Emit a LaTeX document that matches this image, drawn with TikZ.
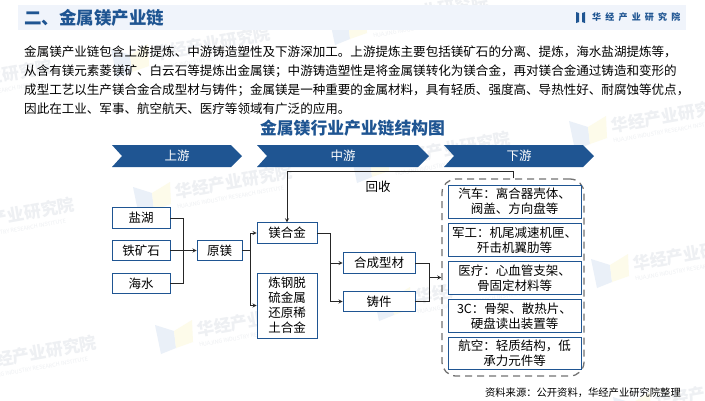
\documentclass[tikz,border=0pt]{standalone}
\usepackage{fontspec}
\setmainfont{Noto Sans CJK SC}
\definecolor{hjblue}{HTML}{1F5592}
\definecolor{headbg}{HTML}{F0F4FB}
\definecolor{markgray}{HTML}{EEF0F3}
\definecolor{markblue}{HTML}{EAF0F8}
\definecolor{markyellow}{HTML}{FDFBEA}
\tikzset{>=stealth}
\tikzset{
    box/.style={draw=hjblue, fill=white, line width=0.9pt, inner sep=0pt, align=center,
        font=\fontsize{12.5}{15}\selectfont},
    usebox/.style={box, minimum width=133pt},
    link/.style={line width=0.8pt, black!85},
    stagename/.style={text=white, font=\fontsize{12.5}{15}\selectfont},
    markname/.style={anchor=west, rotate=10, text=markgray, inner sep=0pt, font=\fontsize{17}{17}\selectfont\bfseries},
    marksub/.style={anchor=west, rotate=10, text=markgray, inner sep=0pt, font=\fontsize{5.5}{6}\selectfont}
}

\begin{document}
\begin{tikzpicture}[x=1pt, y=-1pt]
    \clip (0,0) rectangle (705,400);
    \fill[white] (0,0) rectangle (705,400);
    % watermarks
    \foreach \wx/\wy in {-65/87, -43/225, -21/363, 153/54, 175/192, 197/330, 371/21, 393/159, 415/297, 611/126, 633/264, 655/402}{
        \fill[markblue] ({\wx-42},{\wy-5}) -- ({\wx-23},{\wy+1}) -- ({\wx-21},{\wy+18}) -- ({\wx-36},{\wy+24}) -- cycle;
        \fill[markyellow] ({\wx-23},{\wy+1}) -- ({\wx-5},{\wy-10}) -- ({\wx-4},{\wy+12}) -- ({\wx-21},{\wy+18}) -- cycle;
        \node[markname] at (\wx,\wy) {华经产业研究院};
        \node[marksub] at ({\wx+2},{\wy+15}) {HUAJING INDUSTRY RESEARCH INSTITUTE};
    }
    % header
    \fill[headbg] (18,5) rectangle (686,30);
    \node[anchor=west, inner sep=0pt, text=hjblue, font=\fontsize{17.5}{18}\selectfont\bfseries] (headtitle) at (24,17.5) {二、金属镁产业链};
    \fill[hjblue] (576,12) -- (579,13) -- (579,22) -- (576,23) -- cycle;
    \fill[hjblue] (585,12) -- (582,13) -- (582,22) -- (585,23) -- cycle;
    \node[anchor=west, inner sep=0pt, text=hjblue, font=\fontsize{9}{10}\selectfont\bfseries] (headlogo) at (592,17) {华\hspace{4.2pt}经\hspace{4.2pt}产\hspace{4.2pt}业\hspace{4.2pt}研\hspace{4.2pt}究\hspace{4.2pt}院};
    % intro text
    \node[anchor=north west, inner sep=0pt, align=left, font=\fontsize{12.55}{19}\selectfont] (intro) at (24,45.5) {金属镁产业链包含上游提炼、中游铸造塑性及下游深加工。上游提炼主要包括镁矿石的分离、提炼，海水盐湖提炼等，\\
    从含有镁元素菱镁矿、白云石等提炼出金属镁；中游铸造塑性是将金属镁转化为镁合金，再对镁合金通过铸造和变形的\\
    成型工艺以生产镁合金合成型材与铸件；金属镁是一种重要的金属材料，具有轻质、强度高、导热性好、耐腐蚀等优点，\\
    因此在工业、军事、航空航天、医疗等领域有广泛的应用。};
    \node[text=hjblue, inner sep=0pt, font=\fontsize{16.8}{18}\selectfont\bfseries] (title) at (352.5,128) {金属镁行业产业链结构图};
    % stages
    \foreach \xa/\xb in {112/242, 257/429, 444/594}{
        \fill[hjblue] (\xa,145) -- ({\xb-11},145) -- (\xb,156) -- ({\xb-11},167) -- (\xa,167) -- ({\xa+10},156) -- cycle;
    }
    \node[stagename] (shangyou) at (177,155.5) {上游};
    \node[stagename] (zhongyou) at (343,155.5) {中游};
    \node[stagename] (xiayou) at (519,155.5) {下游};
    % boxes
    \node[draw=black!55, line width=1.3pt, dash pattern=on 7pt off 5pt, rounded corners=14pt, minimum width=142pt, minimum height=197pt] (usegroup) at (513,277.5) {};
    \node[box, minimum width=58pt, minimum height=20.5pt] (yanhu) at (141,218) {盐湖};
    \node[box, minimum width=58pt, minimum height=20.5pt] (tiekuang) at (141,250.5) {铁矿石};
    \node[box, minimum width=58pt, minimum height=20.5pt] (haishui) at (141,283.5) {海水};
    \node[box, minimum width=45pt, minimum height=20.5pt] (yuanmei) at (219.5,250.5) {原镁};
    \node[box, minimum width=60pt, minimum height=20.5pt] (meihejin) at (287,233) {镁合金};
    \node[box, minimum width=60pt, minimum height=65pt] (liangang) at (287,305.5) {炼钢脱\\硫金属\\还原稀\\土合金};
    \node[box, minimum width=72pt, minimum height=20.5pt] (hecheng) at (379,263) {合成型材};
    \node[box, minimum width=72pt, minimum height=20.5pt] (zhujian) at (379,301.5) {铸件};
    \node[usebox, minimum height=33pt] (qiche) at (514.5,201.5) {汽车：离合器壳体、\\阀盖、方向盘等};
    \node[usebox, minimum height=33pt] (jungong) at (514.5,240) {军工：机尾减速机匣、\\歼击机翼肋等};
    \node[usebox, minimum height=33pt] (yiliao) at (514.5,278) {医疗：心血管支架、\\骨固定材料等};
    \node[usebox, minimum height=33pt] (sanc) at (514.5,316) {3C：骨架、散热片、\\硬盘读出装置等};
    \node[usebox, minimum height=32pt] (hangkong) at (514.5,353) {航空：轻质结构，低\\承力元件等};
    % connectors
    \coordinate (joina) at (183.5,250.5);
    \coordinate (joinb) at (250,250.5);
    \coordinate (joinc) at (330,233);
    \coordinate (joind) at (429,277.5);
    \draw[link] (yanhu) -| (joina);
    \draw[link] (haishui) -| (joina);
    \draw[link, ->] (tiekuang) -- (yuanmei);
    \draw[link] (yuanmei) -- (joinb);
    \draw[link, ->] (joinb) |- (meihejin);
    \draw[link, ->] (joinb) |- (liangang);
    \draw[link] (meihejin) -- (joinc);
    \draw[link, ->] (joinc) |- (hecheng);
    \draw[link, ->] (joinc) |- (zhujian);
    \draw[link] (hecheng) -| (joind);
    \draw[link] (zhujian) -| (joind);
    \draw[link, ->] (joind) -- (usegroup);
    \draw[link, ->] (usegroup.north) -- ++(0,-6.5) -| (meihejin.north);
    \node[inner sep=0pt, font=\fontsize{12.5}{15}\selectfont] (huishou) at (378,186.5) {回收};
    % source
    \node[anchor=east, inner sep=0pt, font=\fontsize{10.3}{12}\selectfont] (source) at (681,393) {资料来源：公开资料，华经产业研究院整理};
\end{tikzpicture}
\end{document}
